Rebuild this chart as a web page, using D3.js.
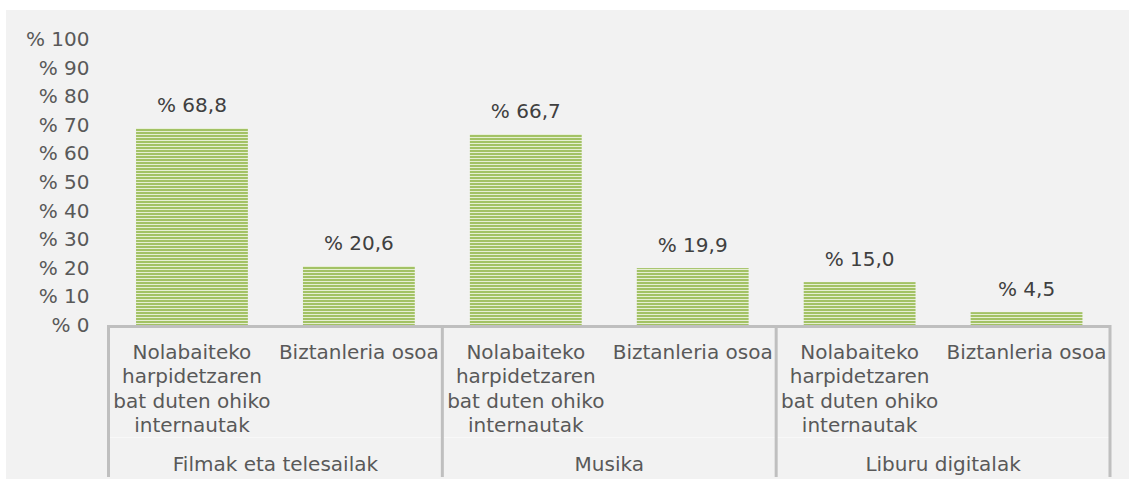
<!DOCTYPE html>
<html>
<head>
<meta charset="utf-8">
<script src="https://cdn.jsdelivr.net/npm/d3@7"></script>
<style>
  html, body { margin: 0; padding: 0; background: #ffffff; }
  svg { display: block; font-family: "DejaVu Sans", Verdana, sans-serif; }
</style>
</head>
<body>
<div id="chart"></div>
<script>
// data
var groups = ["Filmak eta telesailak", "Musika", "Liburu digitalak"];
var subgroups = ["Nolabaiteko harpidetzaren bat duten ohiko internautak", "Biztanleria osoa"];
var subLines = [["Nolabaiteko", "harpidetzaren", "bat duten ohiko", "internautak"], ["Biztanleria osoa"]];
var internautak = [68.8, 66.7, 15.0];
var biztanleria = [20.6, 19.9, 4.5];
var yTicks = [0, 10, 20, 30, 40, 50, 60, 70, 80, 90, 100];

var width = 1129, height = 481;
var fontSize = "20px";

var svg = d3.select("#chart").append("svg")
  .attr("width", width)
  .attr("height", height);

// background panel
svg.append("rect")
  .attr("x", 6).attr("y", 10)
  .attr("width", width - 6).attr("height", 469)
  .attr("fill", "#f2f2f2");

// stripe pattern for the bars
var defs = svg.append("defs");
var pat = defs.append("pattern")
  .attr("id", "stripes")
  .attr("patternUnits", "userSpaceOnUse")
  .attr("width", 8).attr("height", 3);
pat.append("rect").attr("width", 8).attr("height", 3).attr("fill", "#a3c265");
pat.append("rect").attr("y", 2).attr("width", 8).attr("height", 1).attr("fill", "#e6efd3");

var plotLeft = 108.5, plotRight = 1110, zeroY = 325, topY = 39;

var y = d3.scaleLinear().domain([0, 100]).range([zeroY, topY]);
var x0 = d3.scaleBand().domain(groups).range([plotLeft, plotRight]).padding(0);
var x1 = d3.scaleBand().domain(subgroups).range([0, x0.bandwidth()]).padding(0);
var barW = x1.bandwidth() * 0.67;

var rows = [];
groups.forEach(function(g, i) {
  rows.push({group: g, sub: subgroups[0], value: internautak[i]});
  rows.push({group: g, sub: subgroups[1], value: biztanleria[i]});
});

// y axis (labels only)
var yAxis = svg.append("g")
  .attr("transform", "translate(" + (plotLeft - 19) + ",0)")
  .call(d3.axisLeft(y).tickValues(yTicks).tickSize(0).tickPadding(0)
    .tickFormat(function(d) { return "% " + d; }));
yAxis.select(".domain").remove();
yAxis.selectAll("text")
  .attr("fill", "#595959")
  .style("font-size", fontSize)
  .style("font-family", "DejaVu Sans, Verdana, sans-serif");

// bars
svg.append("g").selectAll("rect")
  .data(rows)
  .enter()
  .append("rect")
  .attr("x", function(d) { return x0(d.group) + x1(d.sub) + (x1.bandwidth() - barW) / 2; })
  .attr("y", function(d) { return y(d.value); })
  .attr("width", barW)
  .attr("height", function(d) { return zeroY - y(d.value); })
  .attr("fill", "url(#stripes)");

// value labels
svg.append("g").selectAll("text")
  .data(rows)
  .enter()
  .append("text")
  .attr("x", function(d) { return x0(d.group) + x1(d.sub) + x1.bandwidth() / 2; })
  .attr("y", function(d) { return y(d.value) - 16; })
  .attr("text-anchor", "middle")
  .attr("fill", "#404040")
  .style("font-size", fontSize)
  .text(function(d) { return "% " + d3.format(".1f")(d.value).replace(".", ","); });

// category axis lines
var axisG = svg.append("g");
axisG.append("line")
  .attr("x1", plotLeft).attr("x2", plotRight + 1)
  .attr("y1", zeroY + 1.5).attr("y2", zeroY + 1.5)
  .attr("stroke", "#bfbfbf").attr("stroke-width", 3);
axisG.append("line")
  .attr("x1", plotLeft).attr("x2", plotRight)
  .attr("y1", 437.5).attr("y2", 437.5)
  .attr("stroke", "#f8f8f8").attr("stroke-width", 1);
var bounds = groups.map(function(g) { return x0(g); }).concat([plotRight]);
axisG.selectAll("line.sep")
  .data(bounds)
  .enter()
  .append("line")
  .attr("class", "sep")
  .attr("x1", function(d) { return d; }).attr("x2", function(d) { return d; })
  .attr("y1", zeroY).attr("y2", 477)
  .attr("stroke", "#bfbfbf").attr("stroke-width", 3);

// sub-category labels
rows.forEach(function(d) {
  var lines = subLines[subgroups.indexOf(d.sub)];
  var t = svg.append("text")
    .attr("text-anchor", "middle")
    .attr("fill", "#595959")
    .style("font-size", fontSize);
  lines.forEach(function(l, k) {
    t.append("tspan")
      .attr("x", x0(d.group) + x1(d.sub) + x1.bandwidth() / 2)
      .attr("y", 359 + k * 24.3)
      .text(l);
  });
});

// group labels
svg.append("g").selectAll("text")
  .data(groups)
  .enter()
  .append("text")
  .attr("x", function(d) { return x0(d) + x0.bandwidth() / 2; })
  .attr("y", 471)
  .attr("text-anchor", "middle")
  .attr("fill", "#595959")
  .style("font-size", fontSize)
  .text(function(d) { return d; });
</script>
</body>
</html>
